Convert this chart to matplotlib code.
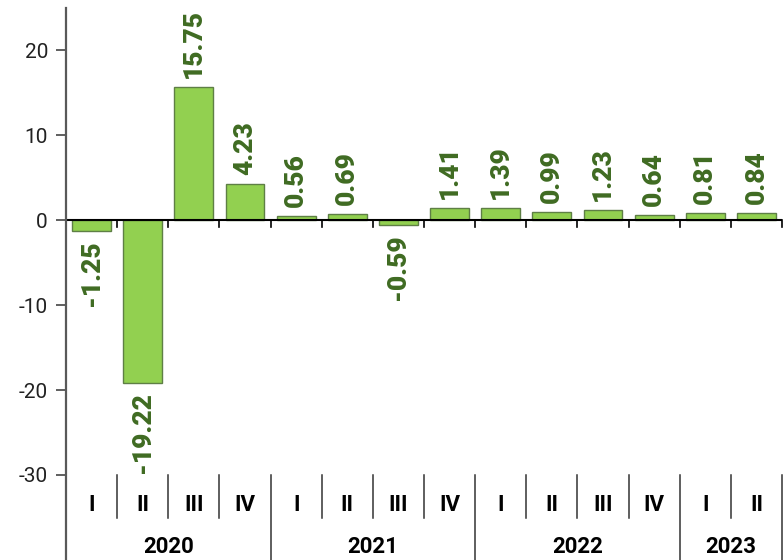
import matplotlib
matplotlib.use("Agg")
import matplotlib.pyplot as plt
from matplotlib import transforms
from matplotlib.lines import Line2D

quarters = ["I", "II", "III", "IV", "I", "II", "III", "IV", "I", "II", "III", "IV", "I", "II"]
years = ["2020", "2021", "2022", "2023"]
year_counts = [4, 4, 4, 2]
values = [-1.25, -19.22, 15.75, 4.23, 0.56, 0.69, -0.59, 1.41, 1.39, 0.99, 1.23, 0.64, 0.81, 0.84]
yticks = [-30, -20, -10, 0, 10, 20]

W, H = 783, 560
fig = plt.figure(figsize=(W / 100, H / 100), dpi=100)
ax = fig.add_axes([66 / W, (H - 475) / H, 716 / W, 467 / H])

x = list(range(len(values)))
ax.bar(x, values, width=0.76, color="#92D050", edgecolor="#5E7F45", linewidth=1.0, zorder=2)
ax.set_xlim(-0.5, len(values) - 0.5)
ax.set_ylim(-30, 25)

for s in ["top", "right", "bottom", "left"]:
    ax.spines[s].set_visible(False)
ax.set_xticks([])
ax.set_yticks(yticks)
ax.set_yticklabels([str(v) for v in yticks], fontfamily="Roboto", fontsize=15, color="#222222")
ax.tick_params(axis="y", length=7, width=1.2, color="#444444", pad=6)

# left axis line from top of plot to bottom of figure
fig.add_artist(Line2D([66 / W, 66 / W], [0, (H - 7.5) / H], transform=fig.transFigure,
                      color="#595959", linewidth=1.6))

# zero line with ticks
ax.axhline(0, color="black", linewidth=1.5, zorder=3)
dy = 7 * (55 / 467)
for b in range(1, len(values) + 1):
    ax.plot([b - 0.5, b - 0.5], [0, -dy], color="black", linewidth=1.2, clip_on=False, zorder=3)

# data labels
off = 9 * (55 / 467)
for xi, v in zip(x, values):
    if v >= 0:
        ax.text(xi, v + off, f"{v:.2f}", rotation=90, ha="center", va="bottom",
                fontfamily="Roboto", fontweight="heavy", fontsize=19, color="#3F6B22", zorder=4)
    else:
        ax.text(xi, v - off, f"{v:.2f}", rotation=90, ha="center", va="top",
                fontfamily="Roboto", fontweight="heavy", fontsize=19, color="#3F6B22", zorder=4)

# category table below
trans = transforms.blended_transform_factory(ax.transData, fig.transFigure)
y_top = (H - 475) / H
y_mid = (H - 518) / H
year_bounds = []
acc = 0
for c in year_counts:
    acc += c
    year_bounds.append(acc)
for b in range(1, len(values) + 1):
    y_end = 0 if b in year_bounds else y_mid
    ax.plot([b - 0.5, b - 0.5], [y_top, y_end], transform=trans, color="#333333",
            linewidth=1.1, clip_on=False)

for xi, q in zip(x, quarters):
    ax.text(xi, (H - 505) / H, q, transform=trans, ha="center", va="center",
            fontfamily="Roboto", fontweight="bold", fontsize=16, color="black")

start = 0
for yr, c in zip(years, year_counts):
    center = start + (c - 1) / 2
    ax.text(center, (H - 547) / H, yr, transform=trans, ha="center", va="center",
            fontfamily="Roboto", fontweight="bold", fontsize=16, color="black")
    start += c

fig.savefig("out.png", dpi=100)
